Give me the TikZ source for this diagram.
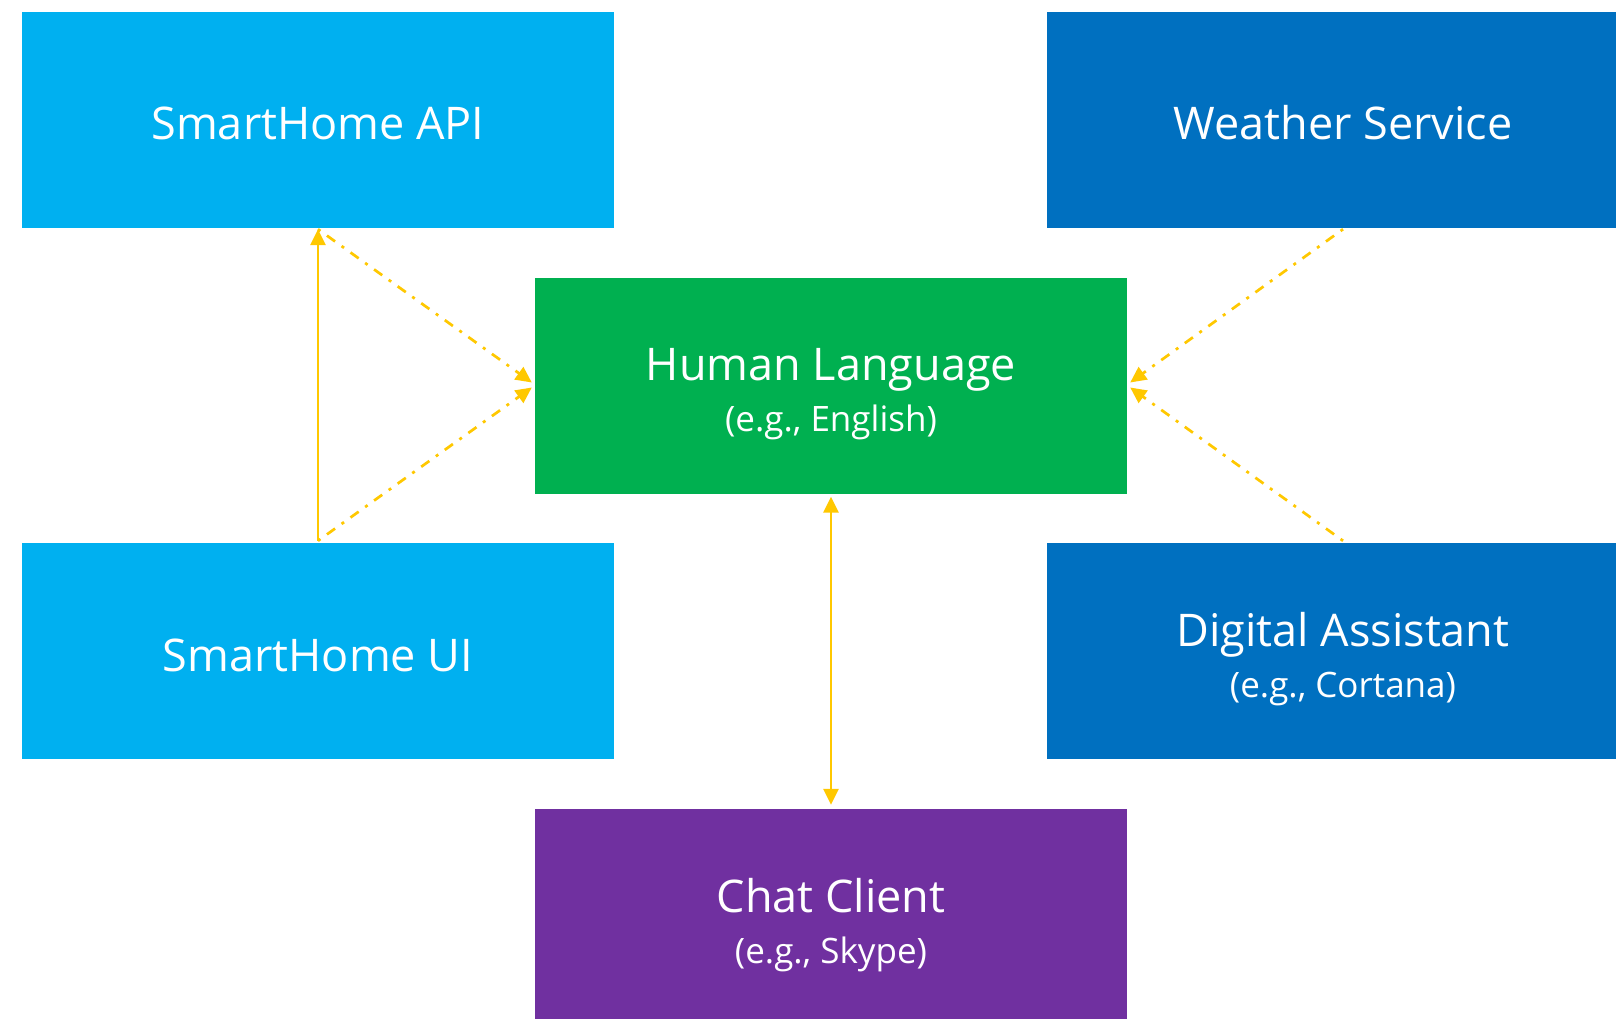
\documentclass[tikz,border=0pt]{standalone}
\usepackage{fontspec}
\setmainfont{Open Sans}
\usetikzlibrary{arrows.meta,calc}
\definecolor{skyblue}{HTML}{00B0F0}
\definecolor{deepblue}{HTML}{0070C0}
\definecolor{leafgreen}{HTML}{00B050}
\definecolor{plum}{HTML}{7030A0}
\definecolor{gold}{HTML}{FFC800}
\newcommand{\subline}{\fontsize{35}{51}\selectfont}
\begin{document}
\begin{tikzpicture}[x=1pt,y=-1pt,
  boxbase/.style={rectangle, minimum width=592pt, minimum height=216pt, inner sep=0pt,
    text=white, align=center, font=\fontsize{45}{51}\selectfont},
  onebox/.style={boxbase, text height=40pt, text depth=0pt},
  twobox/.style={boxbase, text height=92pt, text depth=0pt},
  tipstyle/.style={-{Triangle[length=16pt,width=15pt]}},
  solidlink/.style={draw=gold, line width=2.7pt},
  dotdash/.style={draw=gold, line width=2.7pt, dash pattern=on 3pt off 8pt on 10pt off 8pt}
]
\useasboundingbox (0,0) rectangle (1616,1019);
\clip (0,0) rectangle (1616,1019);
\fill[white] (0,0) rectangle (1616,1019);

\node[onebox, fill=skyblue] (api) at (318,120) {SmartHome API};
\node[onebox, fill=deepblue] (ws) at (1343,120) {Weather Service};
\node[twobox, fill=leafgreen] (hl) at (831,385.5) {Human Language\\{\subline (e.g., English)}};
\node[onebox, fill=skyblue] (ui) at (318,651) {SmartHome UI};
\node[twobox, fill=deepblue] (da) at (1343,651) {Digital Assistant\\{\subline (e.g., Cortana)}};
\node[twobox, fill=plum] (chat) at (831,917) {Chat Client\\{\subline (e.g., Skype)}};

\coordinate (hlwu) at ($(hl.west)+(-3,-3)$);
\coordinate (hlwd) at ($(hl.west)+(-3,2)$);
\coordinate (hleu) at ($(hl.east)+(3,-3)$);
\coordinate (hled) at ($(hl.east)+(3,2)$);
\coordinate (apis) at ($(api.south)+(0,1)$);
\coordinate (uin) at ($(ui.north)+(0,-2)$);
\coordinate (wss) at ($(ws.south)+(0,1)$);
\coordinate (dan) at ($(da.north)+(0,-2)$);

\draw[solidlink, tipstyle, shorten >=1pt] (uin) -- (api.south);
\draw[dotdash, tipstyle] (apis) -- (hlwu);
\draw[dotdash, tipstyle] (uin) -- (hlwd);
\draw[dotdash, tipstyle] (wss) -- (hleu);
\draw[dotdash, tipstyle] (dan) -- (hled);
\draw[solidlink, {Triangle[length=16pt,width=15pt]}-{Triangle[length=16pt,width=15pt]},
  shorten <=3pt, shorten >=4pt] (hl.south) -- (chat.north);
\end{tikzpicture}
\end{document}
